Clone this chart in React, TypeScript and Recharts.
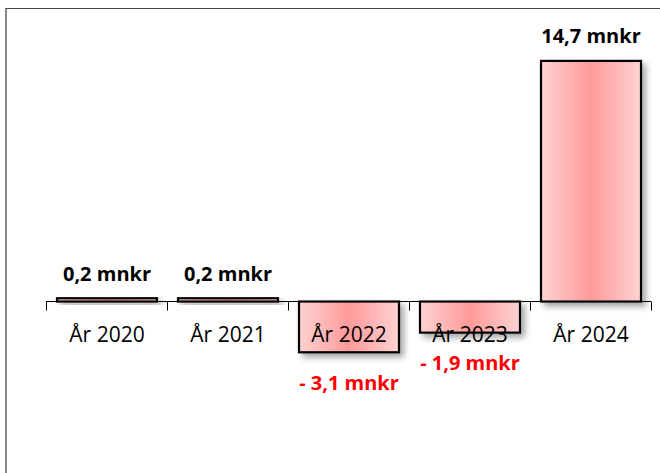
import React from 'react';
import { BarChart, Bar, XAxis, YAxis, ReferenceLine, LabelList } from 'recharts';

const categories = ['År 2020', 'År 2021', 'År 2022', 'År 2023', 'År 2024'];
const values = [0.2, 0.2, -3.1, -1.9, 14.7];
const valueLabels = ['0,2 mnkr', '0,2 mnkr', '- 3,1 mnkr', '- 1,9 mnkr', '14,7 mnkr'];

const data = categories.map((c, i) => ({ name: c, value: values[i], label: valueLabels[i] }));

const W = 660;
const H = 473;
const M = { top: 56, right: 9, bottom: 106, left: 46 };
const BAR = 100;
const BAND = (W - M.left - M.right) / categories.length;
const GAP = (BAND - BAR) / 2;
const FONT = '"Open Sans", "Noto Sans", sans-serif';

const BarShape = (props: any) => {
  const { x, y, width, height } = props;
  const y0 = Math.min(y, y + height);
  const h = Math.abs(height);
  return (
    <rect x={x} y={y0} width={width} height={h} fill="url(#barGrad)" stroke="#000" strokeWidth={2.2} filter="url(#shadow)" />
  );
};

const CatLabel = (props: any) => {
  const { x, y, width, height, index } = props;
  const zero = y + height;
  const cx = x + width / 2;
  const last = index === categories.length - 1;
  return (
    <g>
      <line x1={x - GAP} x2={x - GAP} y1={zero} y2={zero + 9} stroke="#000" strokeWidth={1} />
      {last && <line x1={x + width + GAP} x2={x + width + GAP} y1={zero} y2={zero + 9} stroke="#000" strokeWidth={1} />}
      <text x={cx} y={zero + 32} textAnchor="middle" dominantBaseline="central" fontFamily={FONT} fontSize={21} fill="#000">
        {categories[index]}
      </text>
    </g>
  );
};

const ValLabel = (props: any) => {
  const { x, y, width, height, index } = props;
  const v = values[index];
  const cx = x + width / 2;
  const top = Math.min(y, y + height);
  const bottom = Math.max(y, y + height);
  const ty = v >= 0 ? top - 25 : bottom + 30;
  return (
    <text x={cx} y={ty} textAnchor="middle" dominantBaseline="central" fontFamily={FONT} fontWeight="bold" fontSize={20} fill={v >= 0 ? '#000' : '#FF0000'}>
      {valueLabels[index]}
    </text>
  );
};

export default function App() {
  return (
    <div style={{ position: 'absolute', left: 0, top: 0, width: W, height: H, background: '#fff' }}>
      <div style={{ position: 'absolute', left: 5, top: 8, width: W - 5, height: H - 8, borderLeft: '2px solid #8a8a8a', borderTop: '1px solid #444', boxSizing: 'border-box' }} />
      <div style={{ position: 'absolute', left: 0, top: 0 }}>
        <BarChart width={W} height={H} data={data} margin={M}>
          <defs>
            <linearGradient id="barGrad" x1="0" y1="0" x2="1" y2="0">
              <stop offset="0%" stopColor="#FFD2D2" />
              <stop offset="50%" stopColor="#FF9A9A" />
              <stop offset="100%" stopColor="#FFD2D2" />
            </linearGradient>
            <filter id="shadow" x="-20%" y="-20%" width="150%" height="200%">
              <feDropShadow dx="4" dy="4" stdDeviation="3" floodColor="#000" floodOpacity="0.35" />
            </filter>
          </defs>
          <XAxis dataKey="name" hide />
          <YAxis hide domain={[-4, 15]} type="number" allowDataOverflow />
          <ReferenceLine y={0} stroke="#000" strokeWidth={1} />
          <Bar dataKey="value" barSize={BAR} shape={<BarShape />} isAnimationActive={false}>
            <LabelList dataKey="value" content={<CatLabel />} />
            <LabelList dataKey="label" content={<ValLabel />} />
          </Bar>
        </BarChart>
      </div>
    </div>
  );
}
